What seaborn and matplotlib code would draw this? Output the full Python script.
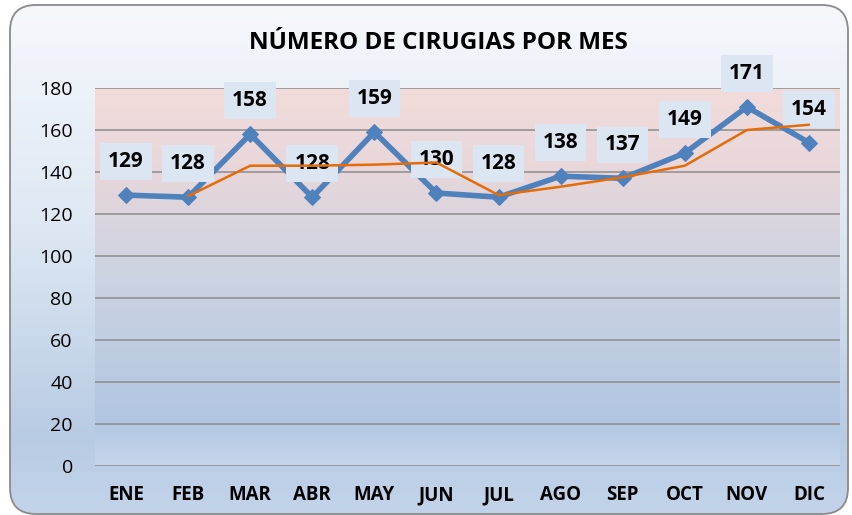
import matplotlib.pyplot as plt
import numpy as np
import pandas as pd
import seaborn as sns
from matplotlib.colors import LinearSegmentedColormap
from matplotlib.patches import FancyBboxPatch

months = ['ENE', 'FEB', 'MAR', 'ABR', 'MAY', 'JUN', 'JUL', 'AGO', 'SEP', 'OCT', 'NOV', 'DIC']
cirugias = [129, 128, 158, 128, 159, 130, 128, 138, 137, 149, 171, 154]
# 2-month moving average trend line
tendencia = [np.nan, 128.5, 143, 143, 143.5, 144.5, 129, 133, 137.5, 143, 160, 162.5]
y_ticks = [0, 20, 40, 60, 80, 100, 120, 140, 160, 180]

df = pd.DataFrame({'pos': range(len(months)), 'mes': months,
                   'cirugias': cirugias, 'tendencia': tendencia})

sns.set_style('white')
plt.rcParams['font.family'] = ['Open Sans', 'DejaVu Sans']
plt.rcParams['text.color'] = 'black'
plt.rcParams['xtick.color'] = 'black'
plt.rcParams['ytick.color'] = 'black'

W, H = 853, 515
fig = plt.figure(figsize=(W / 100, H / 100), dpi=100)
fig.patch.set_facecolor('white')

# outer chart area: rounded box with soft vertical gradient
bg = fig.add_axes([0, 0, 1, 1])
bg.set_xlim(0, W)
bg.set_ylim(H, 0)
bg.axis('off')
outer_cmap = LinearSegmentedColormap.from_list(
    'outer', [(0, '#f6f8fc'), (0.45, '#dde7f3'), (0.85, '#b7cbe3'), (1, '#c3d4ea')])
grad = np.linspace(0, 1, 256).reshape(-1, 1)
r = 26
box = FancyBboxPatch((10 + r, 5 + r), 838 - 2 * r, 509 - 2 * r,
                     boxstyle=f'round,pad={r}', fc='none', ec='#8a8a8a', lw=1.3, zorder=2)
bg.add_patch(box)
img = bg.imshow(grad, cmap=outer_cmap, extent=[10, 848, 514, 5], aspect='auto', zorder=0)
img.set_clip_path(box)

# plot area
ax = fig.add_axes([95 / W, 49 / H, 745 / W, 378 / H])
inner_cmap = LinearSegmentedColormap.from_list(
    'inner', [(0, '#c5d6eb'), (0.12, '#b2c6e1'), (0.5, '#ccd3e2'), (0.8, '#e9d7da'), (1, '#f2dcdb')])
ax.imshow(np.linspace(0, 1, 256).reshape(-1, 1), cmap=inner_cmap, origin='lower',
          extent=[-0.5, 11.5, 0, 180], aspect='auto', zorder=0)

sns.lineplot(data=df, x='pos', y='cirugias', ax=ax, color='#4f81bd', lw=4,
             marker='D', markersize=8, markeredgecolor='#4f81bd', zorder=3)
sns.lineplot(data=df, x='pos', y='tendencia', ax=ax, color='#e46c0a', lw=1.8, zorder=5)

for i, v in enumerate(cirugias):
    ax.annotate(str(v), (i, v), xytext=(0, 24), textcoords='offset points',
                ha='center', va='center', fontsize=15, fontweight='bold',
                bbox=dict(boxstyle='square,pad=0.38', fc='#dce6f2', ec='none'),
                zorder=4, annotation_clip=False)

ax.set_xlim(-0.5, 11.5)
ax.set_ylim(0, 180)
ax.set_yticks(y_ticks)
ax.set_xticks(range(len(months)))
ax.set_xticklabels(months, fontweight='bold', fontsize=13.5)
ax.tick_params(axis='y', labelsize=14, length=0, pad=16)
ax.tick_params(axis='x', length=0, pad=14)
ax.yaxis.grid(True, color='#8c8c8c', lw=1.1)
ax.set_axisbelow(False)
for line in ax.get_ygridlines():
    line.set_zorder(1)
ax.set_xlabel('')
ax.set_ylabel('')
for s in ax.spines.values():
    s.set_visible(False)

fig.text(438.5 / W, 1 - 43 / H, 'NÚMERO DE CIRUGIAS POR MES', ha='center', va='center',
         fontsize=17.5, fontweight='bold')

fig.savefig('out.png', dpi=100)
